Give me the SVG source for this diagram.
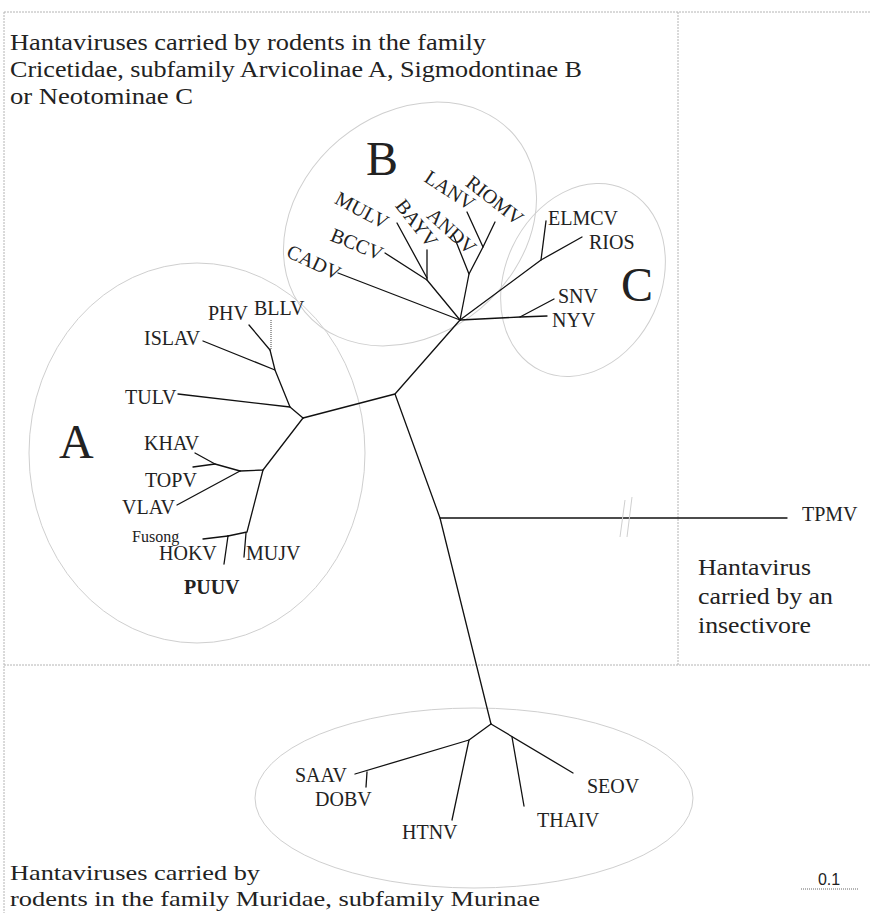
<svg xmlns="http://www.w3.org/2000/svg" width="870" height="913" viewBox="0 0 870 913">
<style>
.br{stroke:#111;stroke-width:1.3;fill:none;stroke-linecap:round;stroke-linejoin:round}
.dot{stroke:#444;stroke-width:1;stroke-dasharray:1 1;fill:none}
.lb{font-family:"Liberation Serif","Times New Roman",serif;font-size:20px;fill:#222}
.cl{font-family:"Liberation Serif","Times New Roman",serif;font-size:48px;fill:#222}
.cap{font-family:"Liberation Serif","Times New Roman",serif;font-size:24px;fill:#222}
.el{fill:none;stroke:#cfcfcf;stroke-width:1}
.fr{stroke:#b4b4b4;stroke-width:1;stroke-dasharray:2 1;fill:none}
.sl{stroke:#cfcfcf;stroke-width:1;fill:none}
</style>
<rect width="870" height="913" fill="#fff"/>

<g id="frame">
<line class="fr" x1="4" y1="12" x2="870" y2="12"/>
<line class="fr" x1="4" y1="12" x2="4" y2="913"/>
<line class="fr" x1="678" y1="12" x2="678" y2="665"/>
<line class="fr" x1="4" y1="665" x2="870" y2="665"/>
</g>

<g id="clades">
<ellipse id="clade-A" class="el" cx="197" cy="453" rx="168" ry="190"/>
<ellipse id="clade-B" class="el" cx="410" cy="224" rx="137" ry="110" transform="rotate(-40 410 224)"/>
<ellipse id="clade-C" class="el" cx="583" cy="280" rx="100" ry="78" transform="rotate(-65 583 280)"/>
<ellipse id="clade-Murinae" class="el" cx="474" cy="798" rx="219" ry="90"/>
<text class="cl" x="59" y="458">A</text>
<text class="cl" x="366" y="175">B</text>
<text class="cl" x="621" y="301">C</text>
</g>

<g id="connectors">
<polyline class="br" points="303,418 395,394 460,320"/>
<polyline class="br" points="395,394 440,518 491,724"/>
<line class="br" x1="440" y1="518" x2="787" y2="518"/>
<line class="br" x1="338" y1="273" x2="460" y2="320"/>
<polyline class="br" points="385,253 427,280 460,320"/>
<line class="br" x1="397" y1="223" x2="427" y2="278"/>
<line class="br" x1="427" y1="250" x2="427" y2="280"/>
<polyline class="br" points="453,234 469,274 460,320"/>
<polyline class="br" points="467,212 483,247 469,274"/>
<line class="br" x1="495" y1="222" x2="483" y2="247"/>
<polyline class="br" points="460,320 541,260 582,237"/>
<line class="br" x1="546" y1="221" x2="541" y2="260"/>
<polyline class="br" points="460,320 520,317 547,316"/>
<line class="br" x1="520" y1="317" x2="554" y2="299"/>
<polyline class="br" points="303,418 290,407 275,370 270,350"/>
<line class="br" x1="178" y1="394" x2="290" y2="407"/>
<line class="br" x1="203" y1="341" x2="275" y2="370"/>
<line class="br" x1="249" y1="325" x2="270" y2="350"/>
<line class="dot" x1="271" y1="320" x2="271" y2="350"/>
<polyline class="br" points="303,418 263,470 240,471"/>
<polyline class="br" points="195,453 215,464 240,471"/>
<line class="br" x1="193" y1="467" x2="215" y2="464"/>
<line class="br" x1="177" y1="505" x2="240" y2="471"/>
<polyline class="br" points="263,470 247,532 228,536"/>
<line class="br" x1="246" y1="533" x2="244" y2="557"/>
<line class="br" x1="203" y1="539" x2="228" y2="536"/>
<line class="br" x1="228" y1="536" x2="224" y2="564"/>
<polyline class="br" points="491,724 469,740 355,774"/>
<line class="br" x1="367" y1="772" x2="366" y2="787"/>
<line class="br" x1="469" y1="740" x2="452" y2="820"/>
<line class="br" x1="491" y1="724" x2="573" y2="773"/>
<line class="br" x1="512" y1="737" x2="524" y2="806"/>
<line class="sl" x1="620" y1="537" x2="625" y2="500"/>
<line class="sl" x1="627" y1="537" x2="632" y2="497"/>
</g>

<g id="node-CADV"><text class="lb" text-anchor="middle" transform="translate(314,262) rotate(25)" y="7">CADV</text></g>
<g id="node-BCCV"><text class="lb" text-anchor="middle" transform="translate(357,244) rotate(22)" y="7">BCCV</text></g>
<g id="node-MULV"><text class="lb" text-anchor="middle" transform="translate(362,210) rotate(28)" y="7">MULV</text></g>
<g id="node-BAYV"><text class="lb" text-anchor="middle" transform="translate(417,223) rotate(52)" y="7">BAYV</text></g>
<g id="node-ANDV"><text class="lb" text-anchor="middle" transform="translate(452,231) rotate(42)" y="7">ANDV</text></g>
<g id="node-LANV"><text class="lb" text-anchor="middle" transform="translate(450,190) rotate(33)" y="7">LANV</text></g>
<g id="node-RIOMV"><text class="lb" text-anchor="middle" transform="translate(495,200) rotate(38)" y="7">RIOMV</text></g>

<g id="node-ELMCV"><text class="lb" x="548" y="225">ELMCV</text></g>
<g id="node-RIOS"><text class="lb" x="589" y="249">RIOS</text></g>
<g id="node-SNV"><text class="lb" x="558" y="303">SNV</text></g>
<g id="node-NYV"><text class="lb" x="552" y="327">NYV</text></g>

<g id="node-PHV"><text class="lb" x="208" y="320">PHV</text></g>
<g id="node-BLLV"><text class="lb" x="254" y="315">BLLV</text></g>
<g id="node-ISLAV"><text class="lb" x="144" y="345">ISLAV</text></g>
<g id="node-TULV"><text class="lb" x="125" y="404">TULV</text></g>
<g id="node-KHAV"><text class="lb" x="144" y="450">KHAV</text></g>
<g id="node-TOPV"><text class="lb" x="145" y="487">TOPV</text></g>
<g id="node-VLAV"><text class="lb" x="122" y="514">VLAV</text></g>
<g id="node-Fusong"><text class="lb" x="132" y="542" style="font-size:16px">Fusong</text></g>
<g id="node-HOKV"><text class="lb" x="159" y="560">HOKV</text></g>
<g id="node-MUJV"><text class="lb" x="246" y="560">MUJV</text></g>
<g id="node-PUUV"><text class="lb" x="184" y="594" style="font-weight:bold">PUUV</text></g>

<g id="node-TPMV"><text class="lb" x="802" y="521">TPMV</text></g>

<g id="node-SAAV"><text class="lb" x="295" y="782">SAAV</text></g>
<g id="node-DOBV"><text class="lb" x="315" y="806">DOBV</text></g>
<g id="node-HTNV"><text class="lb" x="402" y="839">HTNV</text></g>
<g id="node-THAIV"><text class="lb" x="537" y="827">THAIV</text></g>
<g id="node-SEOV"><text class="lb" x="587" y="793">SEOV</text></g>

<g id="captions">
<text class="cap" x="10" y="50" textLength="476" lengthAdjust="spacingAndGlyphs">Hantaviruses carried by rodents in the family</text>
<text class="cap" x="10" y="77" textLength="572" lengthAdjust="spacingAndGlyphs">Cricetidae, subfamily Arvicolinae A, Sigmodontinae B</text>
<text class="cap" x="10" y="104" textLength="183" lengthAdjust="spacingAndGlyphs">or Neotominae C</text>
<text class="cap" x="698" y="575" textLength="113" lengthAdjust="spacingAndGlyphs">Hantavirus</text>
<text class="cap" x="698" y="604" textLength="135" lengthAdjust="spacingAndGlyphs">carried by an</text>
<text class="cap" x="698" y="633" textLength="113" lengthAdjust="spacingAndGlyphs">insectivore</text>
<text class="cap" x="10" y="880" textLength="250" lengthAdjust="spacingAndGlyphs" style="font-size:22px">Hantaviruses carried by</text>
<text class="cap" x="10" y="906" textLength="530" lengthAdjust="spacingAndGlyphs" style="font-size:22px">rodents in the family Muridae, subfamily Murinae</text>
</g>

<g id="scale-bar">
<text x="829" y="885" text-anchor="middle" style="font-family:'Liberation Sans',Arial,sans-serif;font-size:16px;fill:#222">0.1</text>
<line x1="801" y1="889" x2="858" y2="889" stroke="#666" stroke-width="1" stroke-dasharray="1 1"/>
</g>
</svg>
